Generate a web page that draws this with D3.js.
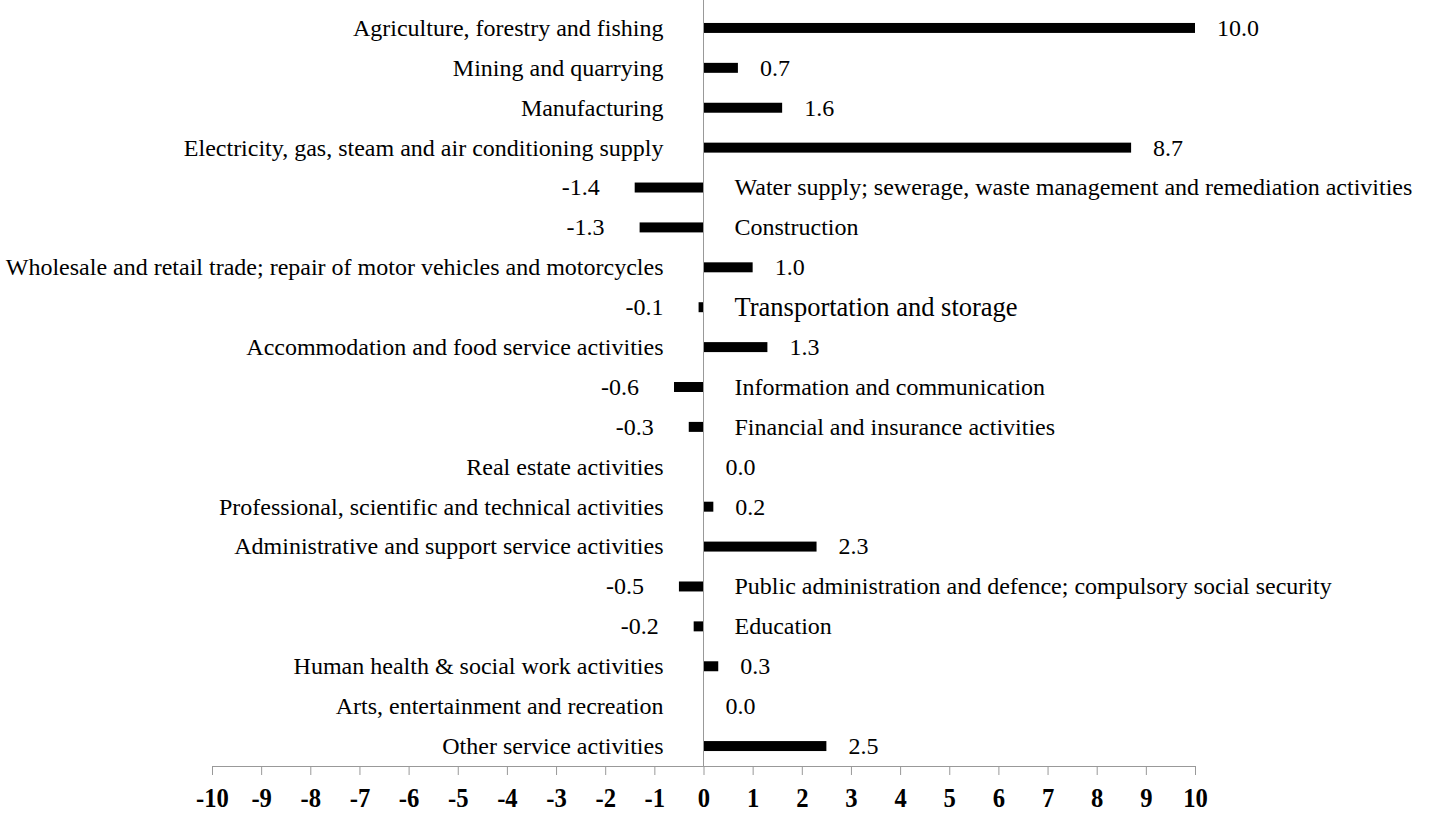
<!DOCTYPE html>
<html>
<head>
<meta charset="utf-8">
<script src="https://cdn.jsdelivr.net/npm/d3@7"></script>
<style>
  body { margin: 0; background: #fff; }
  text { font-family: "Liberation Serif", "Times New Roman", serif; fill: #000; }
</style>
</head>
<body>
<div id="chart"></div>
<script>
// Sectors (top to bottom) and their change values
const sectors = [
    "Agriculture, forestry and fishing",
    "Mining and quarrying",
    "Manufacturing",
    "Electricity, gas, steam and air conditioning supply",
    "Water supply; sewerage, waste management and remediation activities",
    "Construction",
    "Wholesale and retail trade; repair of motor vehicles and motorcycles",
    "Transportation and storage",
    "Accommodation and food service activities",
    "Information and communication",
    "Financial and insurance activities",
    "Real estate activities",
    "Professional, scientific and technical activities",
    "Administrative and support service activities",
    "Public administration and defence; compulsory social security",
    "Education",
    "Human health & social work activities",
    "Arts, entertainment and recreation",
    "Other service activities"
];
const values = [10.0, 0.7, 1.6, 8.7, -1.4, -1.3, 1.0, -0.1, 1.3, -0.6, -0.3, 0.0, 0.2, 2.3, -0.5, -0.2, 0.3, 0.0, 2.5];
const xTicks = [-10, -9, -8, -7, -6, -5, -4, -3, -2, -1, 0, 1, 2, 3, 4, 5, 6, 7, 8, 9, 10];

const data = sectors.map((s, i) => ({ sector: s, value: values[i] }));

const width = 1442, height = 816;

const svg = d3.select("#chart").append("svg")
    .attr("width", width)
    .attr("height", height);

const x = d3.scaleLinear()
    .domain([-10, 10])
    .range([212, 1195]);

const y = d3.scaleBand()
    .domain(sectors)
    .range([8, 766])
    .paddingInner(0.75)
    .paddingOuter(0.375);

// Bars
svg.selectAll(".bar")
    .data(data)
    .enter()
    .append("rect")
    .attr("class", "bar")
    .attr("x", d => x(Math.min(0, d.value)))
    .attr("y", d => y(d.sector))
    .attr("width", d => Math.abs(x(d.value) - x(0)))
    .attr("height", y.bandwidth())
    .attr("fill", "#000");

// Zero line
svg.append("line")
    .attr("x1", x(0)).attr("x2", x(0))
    .attr("y1", 0).attr("y2", 766)
    .attr("stroke", "#999")
    .attr("stroke-width", 1);

// X axis (hyphen minus, bold, tall narrow digits)
const xAxis = svg.append("g")
    .attr("transform", "translate(0,766)")
    .call(d3.axisBottom(x).tickValues(xTicks).tickSize(9).tickPadding(12).tickFormat(d => String(d)));
xAxis.select(".domain").attr("stroke", "#999");
xAxis.selectAll(".tick line").attr("stroke", "#999");
xAxis.selectAll(".tick text")
    .attr("font-size", 28)
    .attr("font-weight", "bold")
    .attr("transform", "scale(0.88,1)")
    .style("font-family", "'Liberation Serif', 'Times New Roman', serif");

// Category labels
const mid = d => y(d.sector) + y.bandwidth() / 2;

svg.selectAll(".cat")
    .data(data)
    .enter()
    .append("text")
    .attr("class", "cat")
    .attr("x", d => d.value >= 0 ? x(0) - 40 : x(0) + 31)
    .attr("y", mid)
    .attr("dy", "0.33em")
    .attr("text-anchor", d => d.value >= 0 ? "end" : "start")
    .attr("font-size", d => d.sector === "Transportation and storage" ? 26.5 : 24)
    .text(d => d.sector);

// Value labels
svg.selectAll(".val")
    .data(data)
    .enter()
    .append("text")
    .attr("class", "val")
    .attr("x", d => d.value >= 0 ? x(d.value) + 22 : x(d.value) - 35)
    .attr("y", mid)
    .attr("dy", "0.33em")
    .attr("text-anchor", d => d.value >= 0 ? "start" : "end")
    .attr("font-size", 24)
    .text(d => d.value.toFixed(1));
</script>
</body>
</html>
